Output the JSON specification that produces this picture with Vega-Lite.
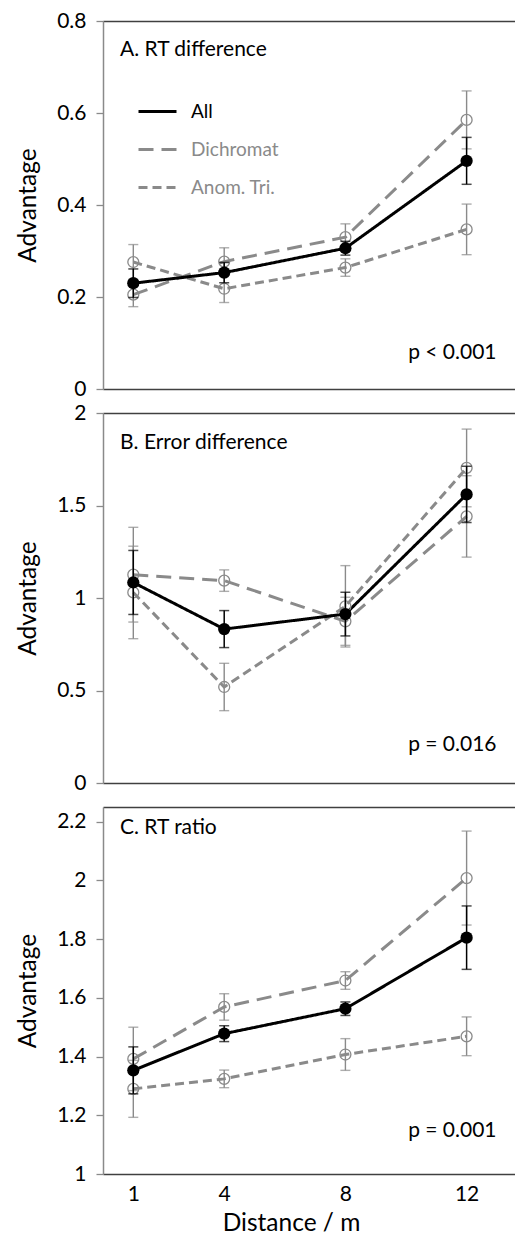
{
  "$schema": "https://vega.github.io/schema/vega-lite/v6.json",
  "background": "white",
  "padding": {"left": 15, "top": 10, "right": 0, "bottom": 0},
  "spacing": 24,
  "bounds": "flush",
  "datasets": {
    "pts": [
      {"panel": "A", "group": "Dichromat", "distance": 1, "value": 0.205, "err": 0.026},
      {"panel": "A", "group": "Dichromat", "distance": 4, "value": 0.277, "err": 0.030},
      {"panel": "A", "group": "Dichromat", "distance": 8, "value": 0.330, "err": 0.029},
      {"panel": "A", "group": "Dichromat", "distance": 12, "value": 0.585, "err": 0.063},
      {"panel": "A", "group": "Anom. Tri.", "distance": 1, "value": 0.276, "err": 0.038},
      {"panel": "A", "group": "Anom. Tri.", "distance": 4, "value": 0.218, "err": 0.030},
      {"panel": "A", "group": "Anom. Tri.", "distance": 8, "value": 0.264, "err": 0.019},
      {"panel": "A", "group": "Anom. Tri.", "distance": 12, "value": 0.347, "err": 0.055},
      {"panel": "A", "group": "All", "distance": 1, "value": 0.230, "err": 0.031},
      {"panel": "A", "group": "All", "distance": 4, "value": 0.253, "err": 0.022},
      {"panel": "A", "group": "All", "distance": 8, "value": 0.306, "err": 0.015},
      {"panel": "A", "group": "All", "distance": 12, "value": 0.496, "err": 0.051},
      {"panel": "B", "group": "Dichromat", "distance": 1, "value": 1.126, "err": 0.256},
      {"panel": "B", "group": "Dichromat", "distance": 4, "value": 1.094, "err": 0.058},
      {"panel": "B", "group": "Dichromat", "distance": 8, "value": 0.874, "err": 0.130},
      {"panel": "B", "group": "Dichromat", "distance": 12, "value": 1.441, "err": 0.220},
      {"panel": "B", "group": "Anom. Tri.", "distance": 1, "value": 1.030, "err": 0.250},
      {"panel": "B", "group": "Anom. Tri.", "distance": 4, "value": 0.519, "err": 0.128},
      {"panel": "B", "group": "Anom. Tri.", "distance": 8, "value": 0.955, "err": 0.220},
      {"panel": "B", "group": "Anom. Tri.", "distance": 12, "value": 1.703, "err": 0.210},
      {"panel": "B", "group": "All", "distance": 1, "value": 1.084, "err": 0.173},
      {"panel": "B", "group": "All", "distance": 4, "value": 0.832, "err": 0.100},
      {"panel": "B", "group": "All", "distance": 8, "value": 0.913, "err": 0.118},
      {"panel": "B", "group": "All", "distance": 12, "value": 1.560, "err": 0.152},
      {"panel": "C", "group": "Dichromat", "distance": 1, "value": 1.392, "err": 0.108},
      {"panel": "C", "group": "Dichromat", "distance": 4, "value": 1.569, "err": 0.045},
      {"panel": "C", "group": "Dichromat", "distance": 8, "value": 1.659, "err": 0.030},
      {"panel": "C", "group": "Dichromat", "distance": 12, "value": 2.008, "err": 0.160},
      {"panel": "C", "group": "Anom. Tri.", "distance": 1, "value": 1.290, "err": 0.097},
      {"panel": "C", "group": "Anom. Tri.", "distance": 4, "value": 1.324, "err": 0.030},
      {"panel": "C", "group": "Anom. Tri.", "distance": 8, "value": 1.407, "err": 0.054},
      {"panel": "C", "group": "Anom. Tri.", "distance": 12, "value": 1.469, "err": 0.066},
      {"panel": "C", "group": "All", "distance": 1, "value": 1.353, "err": 0.080},
      {"panel": "C", "group": "All", "distance": 4, "value": 1.478, "err": 0.027},
      {"panel": "C", "group": "All", "distance": 8, "value": 1.563, "err": 0.023},
      {"panel": "C", "group": "All", "distance": 12, "value": 1.805, "err": 0.108}
    ],
    "notes": [
      {"panel": "A", "label": "A. RT difference", "distance": 0.56, "value": 0.736},
      {"panel": "A", "label": "p < 0.001", "distance": 10.07, "value": 0.079},
      {"panel": "B", "label": "B. Error difference", "distance": 0.56, "value": 1.84},
      {"panel": "B", "label": "p = 0.016", "distance": 10.07, "value": 0.207},
      {"panel": "C", "label": "C. RT ratio", "distance": 0.56, "value": 2.178},
      {"panel": "C", "label": "p = 0.001", "distance": 10.07, "value": 1.148}
    ]
  },
  "vconcat": [
    {
      "width": 413,
      "height": 368,
      "layer": [
        {
          "data": {"name": "notes"},
          "transform": [{"filter": "datum.panel === 'A'"}],
          "mark": {"type": "text", "align": "left", "baseline": "middle", "font": "Lato", "fontSize": 21, "color": "black"},
          "encoding": {
            "x": {"field": "distance", "type": "quantitative", "scale": {"domain": [0, 13.63], "nice": false}, "axis": {"orient": "top", "labels": false, "ticks": false, "title": null}},
            "y": {"field": "value", "type": "quantitative", "scale": {"domain": [0, 0.8], "nice": false}, "title": "Advantage", "axis": {"values": [0, 0.2, 0.4, 0.6, 0.8], "format": "~g"}},
            "text": {"field": "label"}
          }
        },
        {
          "data": {"name": "pts"},
          "transform": [{"filter": "datum.panel === 'A'"}],
          "encoding": {
            "x": {"field": "distance", "type": "quantitative", "scale": {"domain": [0, 13.63], "nice": false}, "axis": {"labels": false, "title": null}},
            "y": {"field": "value", "type": "quantitative", "scale": {"domain": [0, 0.8], "nice": false}, "title": "Advantage"}
          },
          "layer": [
            {
              "mark": {"type": "line", "strokeWidth": 3},
              "encoding": {
                "color": {"field": "group", "type": "nominal", "scale": {"domain": ["All", "Dichromat", "Anom. Tri."], "range": ["#000000", "#8a8a8a", "#8a8a8a"]}, "legend": {"title": null}},
                "strokeDash": {"field": "group", "type": "nominal", "scale": {"domain": ["All", "Dichromat", "Anom. Tri."], "range": [[1, 0], [15, 8], [9, 5]]}, "legend": {"title": null}}
              }
            },
            {
              "transform": [{"filter": "datum.group !== 'All'"}],
              "mark": {"type": "errorbar", "ticks": true, "size": 10, "thickness": 1.4, "color": "#8a8a8a"},
              "encoding": {"yError": {"field": "err"}}
            },
            {
              "transform": [{"filter": "datum.group !== 'All'"}],
              "mark": {"type": "point", "shape": "circle", "filled": false, "size": 120, "strokeWidth": 1.3, "color": "#8a8a8a", "opacity": 1}
            },
            {
              "transform": [{"filter": "datum.group === 'All'"}],
              "mark": {"type": "errorbar", "ticks": true, "size": 10, "thickness": 1.5, "color": "#000000"},
              "encoding": {"yError": {"field": "err"}}
            },
            {
              "transform": [{"filter": "datum.group === 'All'"}],
              "mark": {"type": "point", "shape": "circle", "filled": true, "size": 150, "color": "#000000", "opacity": 1}
            }
          ]
        }
      ],
      "resolve": {"axis": {"x": "independent"}}
    },
    {
      "width": 413,
      "height": 370,
      "layer": [
        {
          "data": {"name": "notes"},
          "transform": [{"filter": "datum.panel === 'B'"}],
          "mark": {"type": "text", "align": "left", "baseline": "middle", "font": "Lato", "fontSize": 21, "color": "black"},
          "encoding": {
            "x": {"field": "distance", "type": "quantitative", "scale": {"domain": [0, 13.63], "nice": false}, "axis": {"orient": "top", "labels": false, "ticks": false, "title": null}},
            "y": {"field": "value", "type": "quantitative", "scale": {"domain": [0, 2], "nice": false}, "title": "Advantage", "axis": {"values": [0, 0.5, 1, 1.5, 2], "format": "~g"}},
            "text": {"field": "label"}
          }
        },
        {
          "data": {"name": "pts"},
          "transform": [{"filter": "datum.panel === 'B'"}],
          "encoding": {
            "x": {"field": "distance", "type": "quantitative", "scale": {"domain": [0, 13.63], "nice": false}, "axis": {"labels": false, "title": null}},
            "y": {"field": "value", "type": "quantitative", "scale": {"domain": [0, 2], "nice": false}, "title": "Advantage"}
          },
          "layer": [
            {
              "mark": {"type": "line", "strokeWidth": 3},
              "encoding": {
                "color": {"field": "group", "type": "nominal", "scale": {"domain": ["All", "Dichromat", "Anom. Tri."], "range": ["#000000", "#8a8a8a", "#8a8a8a"]}, "legend": {"title": null}},
                "strokeDash": {"field": "group", "type": "nominal", "scale": {"domain": ["All", "Dichromat", "Anom. Tri."], "range": [[1, 0], [15, 8], [9, 5]]}, "legend": {"title": null}}
              }
            },
            {
              "transform": [{"filter": "datum.group !== 'All'"}],
              "mark": {"type": "errorbar", "ticks": true, "size": 10, "thickness": 1.4, "color": "#8a8a8a"},
              "encoding": {"yError": {"field": "err"}}
            },
            {
              "transform": [{"filter": "datum.group !== 'All'"}],
              "mark": {"type": "point", "shape": "circle", "filled": false, "size": 120, "strokeWidth": 1.3, "color": "#8a8a8a", "opacity": 1}
            },
            {
              "transform": [{"filter": "datum.group === 'All'"}],
              "mark": {"type": "errorbar", "ticks": true, "size": 10, "thickness": 1.5, "color": "#000000"},
              "encoding": {"yError": {"field": "err"}}
            },
            {
              "transform": [{"filter": "datum.group === 'All'"}],
              "mark": {"type": "point", "shape": "circle", "filled": true, "size": 150, "color": "#000000", "opacity": 1}
            }
          ]
        }
      ],
      "resolve": {"axis": {"x": "independent"}}
    },
    {
      "width": 413,
      "height": 367,
      "layer": [
        {
          "data": {"name": "notes"},
          "transform": [{"filter": "datum.panel === 'C'"}],
          "mark": {"type": "text", "align": "left", "baseline": "middle", "font": "Lato", "fontSize": 21, "color": "black"},
          "encoding": {
            "x": {"field": "distance", "type": "quantitative", "scale": {"domain": [0, 13.63], "nice": false}, "axis": {"orient": "top", "labels": false, "ticks": false, "title": null}},
            "y": {"field": "value", "type": "quantitative", "scale": {"domain": [1, 2.25], "nice": false}, "title": "Advantage", "axis": {"values": [1, 1.2, 1.4, 1.6, 1.8, 2, 2.2], "format": "~g"}},
            "text": {"field": "label"}
          }
        },
        {
          "data": {"name": "pts"},
          "transform": [{"filter": "datum.panel === 'C'"}],
          "encoding": {
            "x": {"field": "distance", "type": "quantitative", "scale": {"domain": [0, 13.63], "nice": false}, "title": "Distance / m", "axis": {"values": [1, 4, 8, 12], "titleX": 188}},
            "y": {"field": "value", "type": "quantitative", "scale": {"domain": [1, 2.25], "nice": false}, "title": "Advantage"}
          },
          "layer": [
            {
              "mark": {"type": "line", "strokeWidth": 3},
              "encoding": {
                "color": {"field": "group", "type": "nominal", "scale": {"domain": ["All", "Dichromat", "Anom. Tri."], "range": ["#000000", "#8a8a8a", "#8a8a8a"]}, "legend": {"title": null}},
                "strokeDash": {"field": "group", "type": "nominal", "scale": {"domain": ["All", "Dichromat", "Anom. Tri."], "range": [[1, 0], [15, 8], [9, 5]]}, "legend": {"title": null}}
              }
            },
            {
              "transform": [{"filter": "datum.group !== 'All'"}],
              "mark": {"type": "errorbar", "ticks": true, "size": 10, "thickness": 1.4, "color": "#8a8a8a"},
              "encoding": {"yError": {"field": "err"}}
            },
            {
              "transform": [{"filter": "datum.group !== 'All'"}],
              "mark": {"type": "point", "shape": "circle", "filled": false, "size": 120, "strokeWidth": 1.3, "color": "#8a8a8a", "opacity": 1}
            },
            {
              "transform": [{"filter": "datum.group === 'All'"}],
              "mark": {"type": "errorbar", "ticks": true, "size": 10, "thickness": 1.5, "color": "#000000"},
              "encoding": {"yError": {"field": "err"}}
            },
            {
              "transform": [{"filter": "datum.group === 'All'"}],
              "mark": {"type": "point", "shape": "circle", "filled": true, "size": 150, "color": "#000000", "opacity": 1}
            }
          ]
        }
      ],
      "resolve": {"axis": {"x": "independent"}}
    }
  ],
  "config": {
    "view": {"stroke": null},
    "font": "Lato",
    "axis": {"grid": false, "labelFont": "Lato", "labelFontSize": 21, "labelColor": "#000000", "titleFont": "Lato", "titleFontSize": 24.5, "titleFontWeight": "normal", "titleColor": "#000000"},
    "axisX": {"ticks": false, "domainColor": "#404040", "domainWidth": 1.5, "labelPadding": 9, "titlePadding": 7},
    "axisY": {"tickColor": "#8a8a8a", "tickSize": 7, "tickWidth": 1.3, "domainColor": "#8a8a8a", "domainWidth": 1.5, "labelPadding": 10, "titlePadding": 16},
    "legend": {
      "orient": "none",
      "legendX": 34,
      "legendY": 70,
      "symbolType": "stroke",
      "symbolSize": 1444,
      "symbolStrokeWidth": 3,
      "labelFont": "Lato",
      "labelFontSize": 19,
      "labelOffset": 13,
      "rowPadding": 7,
      "labelColor": {"expr": "datum.value === 'All' ? '#000000' : '#8a8a8a'"}
    }
  }
}
